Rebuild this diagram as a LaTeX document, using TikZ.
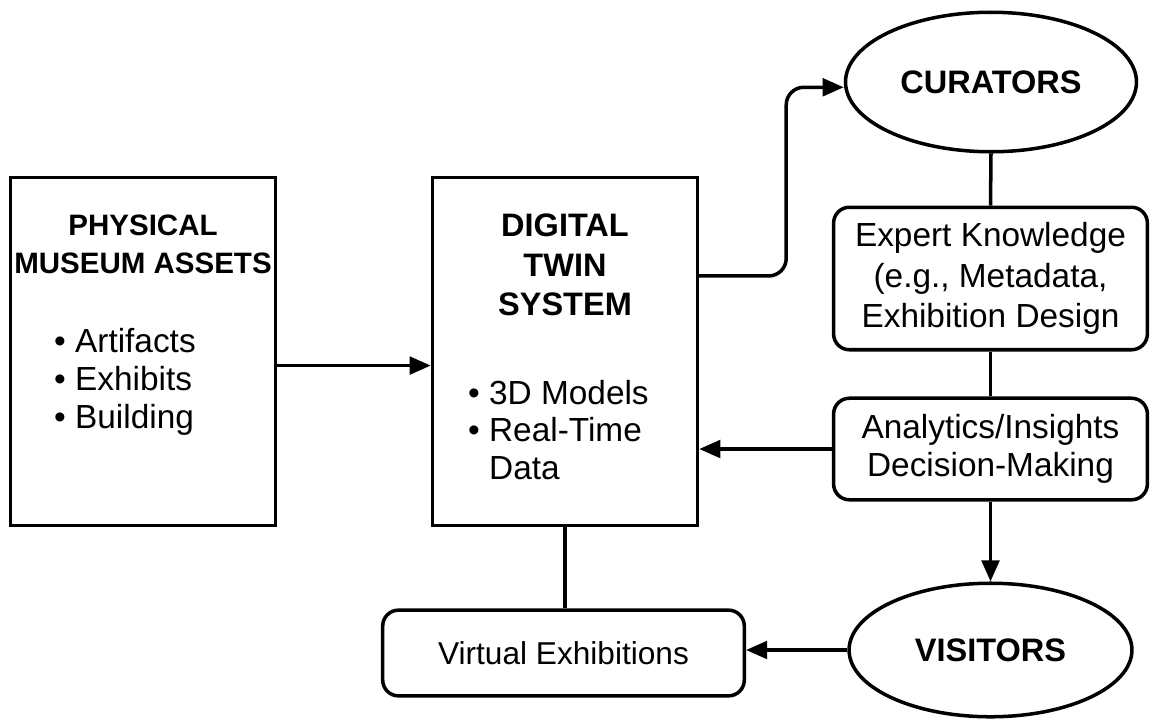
\documentclass[tikz,border=0pt]{standalone}
\usepackage{fontspec}
\setmainfont{Liberation Sans}
\usetikzlibrary{arrows.meta, positioning, shapes.geometric}

\begin{document}
\begin{tikzpicture}[x=0.02cm, y=-0.02cm,
    every node/.style={font=\fontsize{19}{21.5}\selectfont},
    sqbox/.style={draw, line width=2pt, minimum width=150.8pt, minimum height=197.9pt},
    rbox/.style={draw, line width=2pt, rounded corners=9pt, align=center, inner sep=0pt},
    oval/.style={draw, ellipse, line width=2pt, inner sep=0pt, font=\fontsize{18.5}{21}\selectfont\bfseries},
    headtxt/.style={align=center, font=\fontsize{18.5}{22.5}\selectfont\bfseries},
    arr/.style={-{Triangle[length=12pt, width=10pt]}, line width=2pt},
    link/.style={line width=2pt}]
    \useasboundingbox (0,0) rectangle (1150,718);
    % left column
    \node[sqbox] (phys) at (143,351.5) {};
    \node[headtxt, font=\fontsize{16.8}{21.5}\selectfont\bfseries] (physT) at (143,244) {PHYSICAL\\MUSEUM ASSETS};
    \node[anchor=west, align=left] (physL) at (48,382) {\textbullet\ Artifacts\\\textbullet\ Exhibits\\\textbullet\ Building};
    % digital twin
    \node[sqbox] (dig) at (565,351.5) {};
    \node[headtxt] (digT) at (565,265) {DIGITAL\\TWIN\\SYSTEM};
    \node[anchor=west, align=left] (digL) at (462,430) {\textbullet\ 3D Models\\\textbullet\ Real-Time\\\phantom{\textbullet\ }Data};
    % right column
    \node[oval, minimum width=165.6pt, minimum height=79.4pt] (cur) at (991,82) {CURATORS};
    \node[rbox, minimum width=178.6pt, minimum height=81.1pt, font=\fontsize{19}{23}\selectfont] (exp) at (990.5,278.5) {Expert Knowledge\\(e.g., Metadata,\\Exhibition Design};
    \node[rbox, minimum width=178.6pt, minimum height=57.8pt] (ana) at (990.5,449) {Analytics/Insights\\Decision-Making};
    \node[oval, minimum width=161pt, minimum height=76pt] (vis) at (990.5,650) {VISITORS};
    \node[rbox, minimum width=205.8pt, minimum height=48.8pt, font=\fontsize{18}{21}\selectfont] (virt) at (563.5,653) {Virtual Exhibitions};

    \draw[arr] ([yshift=-8pt]phys.east) -- ([yshift=-8pt]dig.west);
    \draw[arr, rounded corners=10pt] ([yshift=43pt]dig.east) -- ++(87,0) |- ([yshift=-3pt]cur.west);
    \draw[link] (cur.south) -- (exp.north);
    \draw[link] (exp.south) -- (ana.north);
    \draw[arr] (ana.west) -- (ana.west -| dig.east);
    \draw[arr] (ana.south) -- (vis.north);
    \draw[arr] (vis.west) -- (vis.west -| virt.east);
    \draw[link] (dig.south) -- (dig.south |- virt.north);
\end{tikzpicture}
\end{document}
